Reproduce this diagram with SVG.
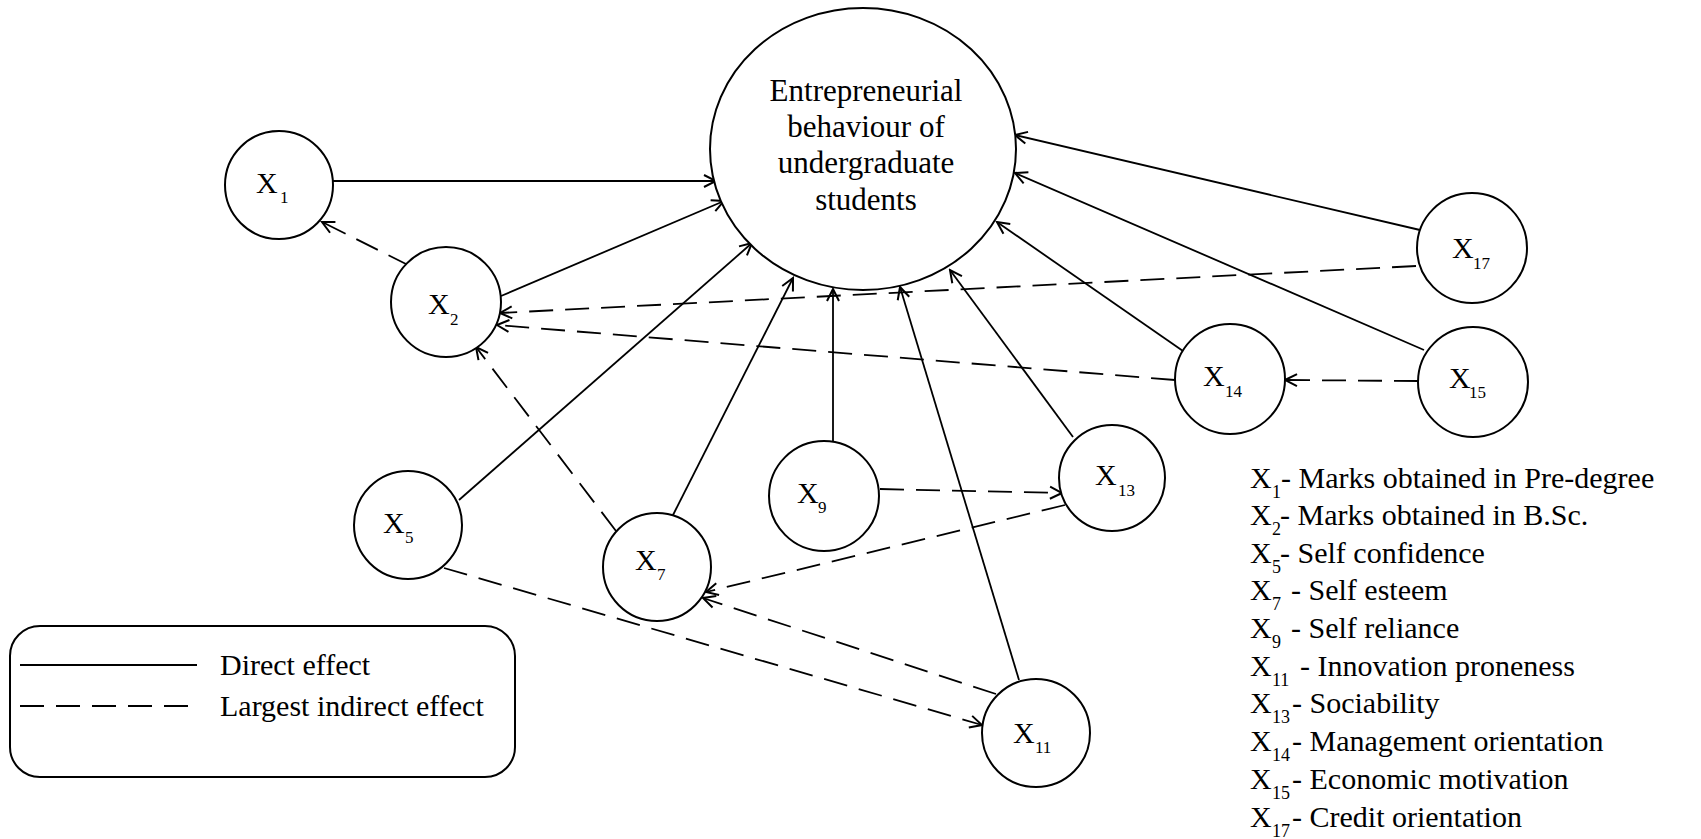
<svg xmlns="http://www.w3.org/2000/svg" width="1701" height="839" viewBox="0 0 1701 839">
<style>
.node{fill:#fff;stroke:#000;stroke-width:2}
.t{font-family:"Liberation Serif","Times New Roman",serif;font-size:30px;fill:#000}
.b{font-family:"Liberation Serif","Times New Roman",serif;font-size:31px;fill:#000}
.s{font-family:"Liberation Serif","Times New Roman",serif;font-size:17px;fill:#000}
.lg{font-family:"Liberation Serif","Times New Roman",serif;font-size:30px;fill:#000}
.ls{font-family:"Liberation Serif","Times New Roman",serif;font-size:18px;fill:#000}
.d{stroke:#000;stroke-width:1.8;fill:none;marker-end:url(#ah)}
.i{stroke:#000;stroke-width:1.8;fill:none;stroke-dasharray:24 12;marker-end:url(#ah)}
</style>
<defs>
<marker id="ah" markerUnits="userSpaceOnUse" viewBox="-14 -8 16 16" refX="0" refY="0" markerWidth="16" markerHeight="16" orient="auto">
<path d="M-12,-6 L0,0 L-12,6" fill="none" stroke="#000" stroke-width="2"/>
</marker>
</defs>
<rect width="1701" height="839" fill="#fff"/>

<g id="connectors">
<line class="d" x1="333" y1="181" x2="716" y2="181"/>
<line class="d" x1="501" y1="296" x2="724" y2="201"/>
<line class="d" x1="459" y1="500" x2="752" y2="243"/>
<line class="d" x1="673" y1="515" x2="793" y2="278"/>
<line class="d" x1="833" y1="442" x2="833" y2="289"/>
<line class="d" x1="1019" y1="680" x2="900" y2="287"/>
<line class="d" x1="1073" y1="437" x2="950" y2="270"/>
<line class="d" x1="1183" y1="351" x2="997" y2="222"/>
<line class="d" x1="1424" y1="350" x2="1015" y2="173"/>
<line class="d" x1="1420" y1="230" x2="1015" y2="135"/>

<line class="i" x1="410" y1="266" x2="322" y2="222"/>
<line class="i" x1="1416" y1="266" x2="500" y2="313"/>
<line class="i" x1="1175" y1="380" x2="497" y2="325"/>
<line class="i" x1="616" y1="531" x2="476" y2="347"/>
<line class="i" x1="1418" y1="381" x2="1285" y2="380"/>
<line class="i" x1="880" y1="489" x2="1062" y2="493"/>
<line class="i" x1="1065" y1="505" x2="706" y2="592"/>
<line class="i" x1="996" y1="694" x2="703" y2="598"/>
<line class="i" x1="444" y1="568" x2="982" y2="725"/>
</g>

<g id="main">
<ellipse class="node" cx="863" cy="149" rx="153" ry="141"/>
<text class="b" text-anchor="middle"><tspan x="866" y="101">Entrepreneurial</tspan><tspan x="866" y="137">behaviour of</tspan><tspan x="866" y="173">undergraduate</tspan><tspan x="866" y="210">students</tspan></text>
</g>

<g id="x1"><circle class="node" cx="279" cy="185" r="54"/><text class="t" x="256" y="193">X</text><text class="s" x="280" y="203">1</text></g>
<g id="x2"><circle class="node" cx="446" cy="302" r="55"/><text class="t" x="428" y="314">X</text><text class="s" x="450" y="325">2</text></g>
<g id="x5"><circle class="node" cx="408" cy="525" r="54"/><text class="t" x="383" y="533">X</text><text class="s" x="405" y="543">5</text></g>
<g id="x7"><circle class="node" cx="657" cy="567" r="54"/><text class="t" x="635" y="570">X</text><text class="s" x="657" y="580">7</text></g>
<g id="x9"><circle class="node" cx="824" cy="496" r="55"/><text class="t" x="797" y="503">X</text><text class="s" x="818" y="513">9</text></g>
<g id="x11"><circle class="node" cx="1036" cy="733" r="54"/><text class="t" x="1013" y="743">X</text><text class="s" x="1035" y="753">11</text></g>
<g id="x13"><circle class="node" cx="1112" cy="478" r="53"/><text class="t" x="1095" y="485">X</text><text class="s" x="1118" y="496">13</text></g>
<g id="x14"><circle class="node" cx="1230" cy="379" r="55"/><text class="t" x="1203" y="386">X</text><text class="s" x="1225" y="397">14</text></g>
<g id="x15"><circle class="node" cx="1473" cy="382" r="55"/><text class="t" x="1449" y="388">X</text><text class="s" x="1469" y="398">15</text></g>
<g id="x17"><circle class="node" cx="1472" cy="248" r="55"/><text class="t" x="1452" y="258">X</text><text class="s" x="1473" y="269">17</text></g>

<g id="legend">
<rect x="10" y="626" width="505" height="151" rx="30" fill="none" stroke="#000" stroke-width="2"/>
<line x1="20" y1="665" x2="197" y2="665" stroke="#000" stroke-width="1.8"/>
<line x1="20" y1="706" x2="197" y2="706" stroke="#000" stroke-width="1.8" stroke-dasharray="24 12"/>
<text class="t" x="220" y="675">Direct effect</text>
<text class="t" x="220" y="716">Largest indirect effect</text>
</g>

<g id="key">
<text class="lg" x="1250" y="488">X</text><text class="ls" x="1272" y="498">1</text><text class="lg" x="1281" y="488">- Marks obtained in Pre-degree</text>
<text class="lg" x="1250" y="525">X</text><text class="ls" x="1272" y="535">2</text><text class="lg" x="1280" y="525">- Marks obtained in B.Sc.</text>
<text class="lg" x="1250" y="563">X</text><text class="ls" x="1272" y="573">5</text><text class="lg" x="1280" y="563">- Self confidence</text>
<text class="lg" x="1250" y="600">X</text><text class="ls" x="1272" y="610">7</text><text class="lg" x="1291" y="600">- Self esteem</text>
<text class="lg" x="1250" y="638">X</text><text class="ls" x="1272" y="648">9</text><text class="lg" x="1291" y="638">- Self reliance</text>
<text class="lg" x="1250" y="676">X</text><text class="ls" x="1272" y="686">11</text><text class="lg" x="1300" y="676">- Innovation proneness</text>
<text class="lg" x="1250" y="713">X</text><text class="ls" x="1272" y="723">13</text><text class="lg" x="1292" y="713">- Sociability</text>
<text class="lg" x="1250" y="751">X</text><text class="ls" x="1272" y="761">14</text><text class="lg" x="1292" y="751">- Management orientation</text>
<text class="lg" x="1250" y="789">X</text><text class="ls" x="1272" y="799">15</text><text class="lg" x="1292" y="789">- Economic motivation</text>
<text class="lg" x="1250" y="827">X</text><text class="ls" x="1272" y="837">17</text><text class="lg" x="1292" y="827">- Credit orientation</text>
</g>
</svg>
